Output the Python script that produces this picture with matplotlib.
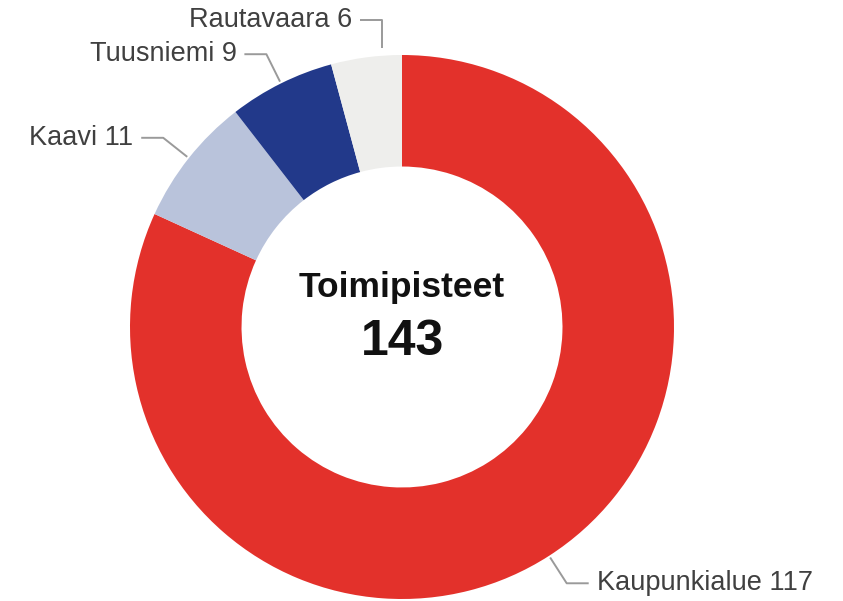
import numpy as np
import matplotlib
matplotlib.use("Agg")
import matplotlib.pyplot as plt

# data
alueet = ["Kaupunkialue", "Kaavi", "Tuusniemi", "Rautavaara"]
toimipisteet = [117, 11, 9, 6]
varit = ["#E3312B", "#B9C3DB", "#22398A", "#EEEEEC"]
otsikko = "Toimipisteet"

plt.rcParams['font.family'] = ['Liberation Sans', 'DejaVu Sans']

W, H = 843, 601
fig = plt.figure(figsize=(W / 100, H / 100), dpi=100)
ax = fig.add_axes([0, 0, 1, 1])

cx, cy, R = 402, 274, 272
wedges, _ = ax.pie(toimipisteet, colors=varit, startangle=90, counterclock=False,
                   radius=R, center=(cx, cy), wedgeprops=dict(width=R * 0.41, linewidth=0))
ax.set_xlim(0, W)
ax.set_ylim(0, H)
ax.set_aspect('equal')
ax.axis('off')

# leader lines + labels
for w, nimi, arvo in zip(wedges, alueet, toimipisteet):
    ang = np.deg2rad((w.theta1 + w.theta2) / 2)
    dx, dy = np.cos(ang), np.sin(ang)
    if abs(dx) < 0.2:
        # nearly at the top: straight vertical leader, label pushed up
        x1 = cx + dx * R * 0.55
        y0 = cy + np.sqrt(R ** 2 - (x1 - cx) ** 2) + 8
        x0, y1 = x1, cy + R * 1.13
    else:
        x0, y0 = cx + dx * (R + 2), cy + dy * (R + 2)
        x1, y1 = cx + dx * R * 1.12, cy + dy * R * 1.12
    s = 1 if dx >= 0 else -1
    x2 = x1 + s * 22
    ax.plot([x0, x1, x2], [y0, y1, y1], color="#9a9a9a", lw=1.4, solid_capstyle='butt')
    ax.text(x2 + s * 8, y1, f"{nimi} {arvo}", ha='left' if s > 0 else 'right',
            va='center', fontsize=19.5, color="#404040")

ax.text(cx, cy + 40, otsikko, ha='center', va='center', fontsize=25.5,
        fontweight='bold', color="#111111")
ax.text(cx, cy - 15, str(sum(toimipisteet)), ha='center', va='center', fontsize=36,
        fontweight='bold', color="#111111")

fig.savefig("out.png", dpi=100, facecolor="white")
